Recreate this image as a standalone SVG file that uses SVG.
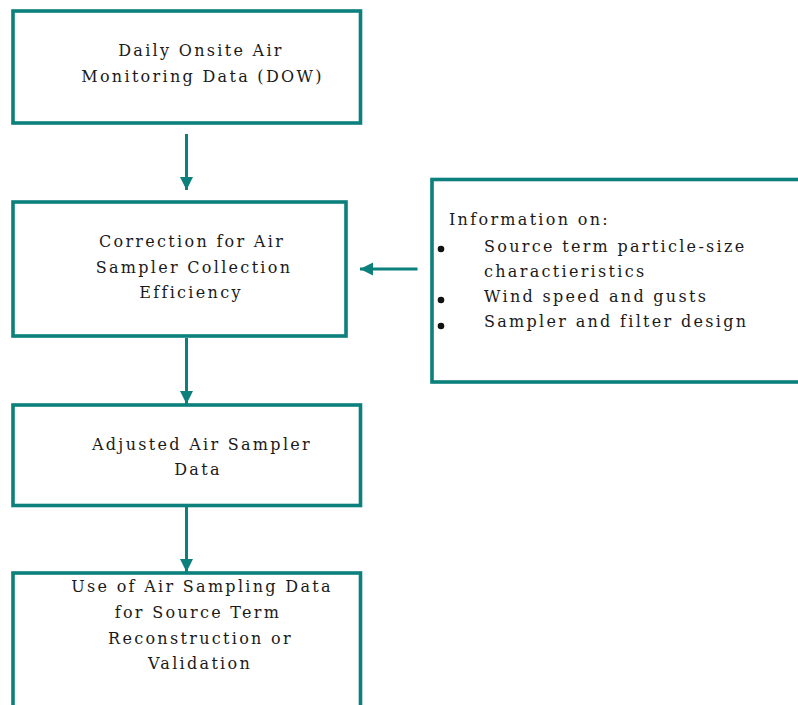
<svg xmlns="http://www.w3.org/2000/svg" width="798" height="705" viewBox="0 0 798 705">
  <style>
    .box { fill: #ffffff; stroke: #0b807c; stroke-width: 3.6; }
    .lbl { font-family: "DejaVu Serif", "Liberation Serif", serif; font-size: 16px; letter-spacing: 2.3px; fill: #1a1a1a; }
    .mid { text-anchor: middle; }
    .conn { stroke: #0b807c; stroke-width: 3; fill: none; }
    .dot { fill: #111111; }
  </style>
  <defs>
    <marker id="head" viewBox="0 0 10 10" refX="10" refY="5" markerWidth="4.4" markerHeight="4.4" markerUnits="strokeWidth" orient="auto">
      <path d="M0,0 L10,5 L0,10 Z" fill="#0b807c"/>
    </marker>
  </defs>

  <rect width="798" height="705" fill="#ffffff"/>

  <!-- connectors -->
  <g id="connectors">
    <line class="conn" x1="186.5" y1="134" x2="186.5" y2="190" marker-end="url(#head)"/>
    <line class="conn" x1="417.5" y1="269" x2="360" y2="269" marker-end="url(#head)"/>
    <line class="conn" x1="186.5" y1="338" x2="186.5" y2="404" marker-end="url(#head)"/>
    <line class="conn" x1="186.5" y1="507" x2="186.5" y2="572" marker-end="url(#head)"/>
  </g>

  <!-- daily onsite data -->
  <g id="node-daily">
    <rect class="box" x="13" y="11" width="347.5" height="112"/>
    <text class="lbl mid" x="201" y="56">Daily Onsite Air</text>
    <text class="lbl mid" x="202.5" y="82">Monitoring Data (DOW)</text>
  </g>

  <!-- collection-efficiency correction -->
  <g id="node-correction">
    <rect class="box" x="13" y="202" width="333" height="134"/>
    <text class="lbl mid" x="192" y="247">Correction for Air</text>
    <text class="lbl mid" x="194" y="273">Sampler Collection</text>
    <text class="lbl mid" x="191" y="298">Efficiency</text>
  </g>

  <!-- supporting information -->
  <g id="node-info">
    <rect class="box" x="432" y="179.5" width="380" height="202.5"/>
    <text class="lbl" x="449" y="225">Information on:</text>
    <circle class="dot" cx="441" cy="249" r="3.3"/>
    <text class="lbl" x="484" y="252">Source term particle-size</text>
    <text class="lbl" x="484" y="277">charactieristics</text>
    <circle class="dot" cx="441" cy="300" r="3.3"/>
    <text class="lbl" x="484" y="302">Wind speed and gusts</text>
    <circle class="dot" cx="441" cy="326" r="3.3"/>
    <text class="lbl" x="484" y="327">Sampler and filter design</text>
  </g>

  <!-- adjusted data -->
  <g id="node-adjusted">
    <rect class="box" x="13" y="405" width="347.5" height="100.5"/>
    <text class="lbl mid" x="202" y="450">Adjusted Air Sampler</text>
    <text class="lbl mid" x="198" y="475">Data</text>
  </g>

  <!-- source term use -->
  <g id="node-use">
    <rect class="box" x="13" y="573" width="347.5" height="160"/>
    <text class="lbl mid" x="202" y="592">Use of Air Sampling Data</text>
    <text class="lbl mid" x="198" y="618">for Source Term</text>
    <text class="lbl mid" x="200.5" y="644">Reconstruction or</text>
    <text class="lbl mid" x="200" y="669">Validation</text>
  </g>
</svg>
